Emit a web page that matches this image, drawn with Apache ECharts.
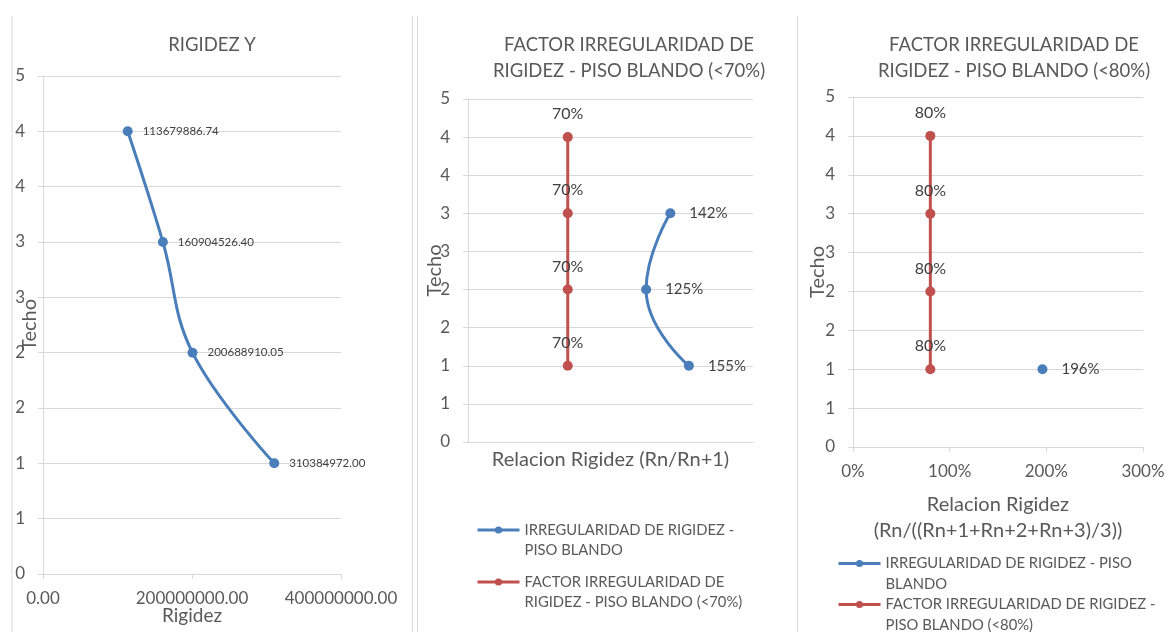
<!DOCTYPE html>
<html>
<head>
<meta charset="utf-8">
<script src="https://cdn.jsdelivr.net/npm/echarts@6/dist/echarts.min.js"></script>
<style>
html,body{margin:0;padding:0;background:#fff;}
#main{width:1168px;height:632px;}
</style>
</head>
<body>
<div id="main"></div>
<script>
// ---- Data ----
const floors = [4, 3, 2, 1];
const rigidez = [113679886.74, 160904526.40, 200688910.05, 310384972.00];

const ratioFloors = [3, 2, 1];
const ratioRn = [1.42, 1.25, 1.55];
const factor70 = [0.70, 0.70, 0.70, 0.70];

const avgFloors = [1];
const ratioAvg = [1.96];
const factor80 = [0.80, 0.80, 0.80, 0.80];

const yTicks = [0, 4.5, 0.5]; // min, max, interval
const nameBlue = 'IRREGULARIDAD DE RIGIDEZ - PISO BLANDO';
const nameRed70 = 'FACTOR IRREGULARIDAD DE RIGIDEZ - PISO BLANDO (<70%)';
const nameRed80 = 'FACTOR IRREGULARIDAD DE RIGIDEZ - PISO BLANDO (<80%)';

// ---- Styles ----
const FONT = 'Lato';
const BLUE = '#4a7ebb';
const RED = '#c0504d';
const TXT = '#595959';
const LBL = '#404040';
const GRID = '#d9d9d9';

const zip = (xs, ys) => xs.map((x, i) => [x, ys[i]]);
const pct = v => Math.round(v * 100) + '%';

function yAxis(gridIndex, gap) {
  return {
    type: 'value', gridIndex, min: yTicks[0], max: yTicks[1], interval: yTicks[2],
    name: 'Techo', nameLocation: 'middle', nameRotate: 90, nameGap: gap, nameMoveOverlap: false,
    nameTextStyle: {color: TXT, fontSize: 20, fontFamily: FONT},
    axisLine: {show: true, lineStyle: {color: GRID}},
    axisTick: {show: true, length: 5, lineStyle: {color: GRID}},
    splitLine: {show: true, lineStyle: {color: GRID}},
    axisLabel: {color: TXT, fontSize: 17, fontFamily: FONT, margin: 18, formatter: v => String(Math.round(v))}
  };
}

const titleStyle = {color: TXT, fontSize: 18.5, fontWeight: 'normal', lineHeight: 26, fontFamily: FONT};
const legendText = {color: TXT, fontSize: 14.8, lineHeight: 20, fontFamily: FONT};
const legendText3 = {color: TXT, fontSize: 14.8, lineHeight: 21, fontFamily: FONT};
const legendBase = {padding: 0, itemWidth: 42, itemHeight: 9, lineStyle: {width: 3}};

const chart = echarts.init(document.getElementById('main'));
chart.setOption({
  animation: false,
  textStyle: {fontFamily: FONT},
  title: [
    {text: 'RIGIDEZ Y', left: 212, top: 32, textAlign: 'center', padding: 0, textStyle: titleStyle},
    {text: 'FACTOR IRREGULARIDAD DE\nRIGIDEZ - PISO BLANDO (<70%)', left: 629, top: 32, textAlign: 'center', padding: 0, textStyle: titleStyle},
    {text: 'FACTOR IRREGULARIDAD DE\nRIGIDEZ - PISO BLANDO (<80%)', left: 1014, top: 32, textAlign: 'center', padding: 0, textStyle: titleStyle}
  ],
  graphic: [
    {type: 'line', shape: {x1: 12, y1: 16, x2: 12, y2: 632}, style: {stroke: GRID, lineWidth: 1}},
    {type: 'line', shape: {x1: 412.5, y1: 16, x2: 412.5, y2: 632}, style: {stroke: GRID, lineWidth: 1}},
    {type: 'line', shape: {x1: 417.5, y1: 16, x2: 417.5, y2: 632}, style: {stroke: GRID, lineWidth: 1}},
    {type: 'line', shape: {x1: 797.5, y1: 16, x2: 797.5, y2: 632}, style: {stroke: GRID, lineWidth: 1}}
  ],
  grid: [
    {left: 43, right: 827, top: 76, bottom: 58, outerBoundsMode: 'none'},
    {left: 468, right: 415, top: 99, bottom: 190, outerBoundsMode: 'none'},
    {left: 853, right: 25, top: 97, bottom: 185, outerBoundsMode: 'none'}
  ],
  xAxis: [
    {type: 'value', gridIndex: 0, min: 0, max: 400000000, interval: 200000000,
     name: 'Rigidez', nameLocation: 'middle', nameGap: 32, nameMoveOverlap: false,
     nameTextStyle: {color: TXT, fontSize: 19, fontFamily: FONT},
     axisLine: {show: true, lineStyle: {color: GRID}},
     axisTick: {show: true, length: 5, lineStyle: {color: GRID}},
     splitLine: {show: false},
     axisLabel: {color: TXT, fontSize: 17, fontFamily: FONT, margin: 16, formatter: v => v.toFixed(2)}},
    {type: 'value', gridIndex: 1, min: 0, max: 2, interval: 1,
     name: 'Relacion Rigidez (Rn/Rn+1)', nameLocation: 'middle', nameGap: 8, nameMoveOverlap: false,
     nameTextStyle: {color: TXT, fontSize: 20, fontFamily: FONT},
     axisLine: {show: true, lineStyle: {color: GRID}},
     axisTick: {show: false}, splitLine: {show: false}, axisLabel: {show: false}},
    {type: 'value', gridIndex: 2, min: 0, max: 3, interval: 1,
     name: 'Relacion Rigidez\n(Rn/((Rn+1+Rn+2+Rn+3)/3))', nameLocation: 'middle', nameGap: 45, nameMoveOverlap: false,
     nameTextStyle: {color: TXT, fontSize: 20, lineHeight: 26, fontFamily: FONT},
     axisLine: {show: true, lineStyle: {color: GRID}},
     axisTick: {show: true, length: 5, lineStyle: {color: GRID}},
     splitLine: {show: false},
     axisLabel: {color: TXT, fontSize: 17, fontFamily: FONT, margin: 16, formatter: pct}}
  ],
  yAxis: [yAxis(0, 3), yAxis(1, 23), yAxis(2, 25)],
  legend: [
    Object.assign({data: [nameBlue], left: 476, top: 500,
     formatter: () => '\nIRREGULARIDAD DE RIGIDEZ -\nPISO BLANDO', textStyle: legendText}, legendBase),
    Object.assign({data: [nameRed70], left: 476, top: 552,
     formatter: () => '\nFACTOR IRREGULARIDAD DE\nRIGIDEZ - PISO BLANDO (<70%)', textStyle: legendText}, legendBase),
    Object.assign({data: [nameBlue], left: 837, top: 532,
     formatter: () => '\nIRREGULARIDAD DE RIGIDEZ - PISO\nBLANDO', textStyle: legendText3}, legendBase),
    Object.assign({data: [nameRed80], left: 837, top: 573,
     formatter: () => '\nFACTOR IRREGULARIDAD DE RIGIDEZ -\nPISO BLANDO (<80%)', textStyle: legendText3}, legendBase)
  ],
  series: [
    {type: 'line', name: 'Rigidez Y', xAxisIndex: 0, yAxisIndex: 0, data: zip(rigidez, floors),
     smooth: 0.4, symbol: 'circle', symbolSize: 10, color: BLUE, lineStyle: {width: 3, color: BLUE},
     label: {show: true, position: 'right', distance: 10, color: LBL, fontSize: 11.5, fontFamily: FONT,
             formatter: p => p.value[0].toFixed(2)}},
    {type: 'line', name: nameBlue, xAxisIndex: 1, yAxisIndex: 1, data: zip(ratioRn, ratioFloors),
     smooth: 0.5, symbol: 'circle', symbolSize: 10, color: BLUE, lineStyle: {width: 3, color: BLUE},
     label: {show: true, position: 'right', distance: 14, color: LBL, fontSize: 15, fontFamily: FONT,
             formatter: p => pct(p.value[0])}},
    {type: 'line', name: nameRed70, xAxisIndex: 1, yAxisIndex: 1, data: zip(factor70, floors),
     symbol: 'circle', symbolSize: 10, color: RED, lineStyle: {width: 3, color: RED},
     label: {show: true, position: 'top', distance: 10, color: LBL, fontSize: 16, fontFamily: FONT,
             formatter: p => pct(p.value[0])}},
    {type: 'line', name: nameBlue, xAxisIndex: 2, yAxisIndex: 2, data: zip(ratioAvg, avgFloors),
     symbol: 'circle', symbolSize: 10, color: BLUE, lineStyle: {width: 3, color: BLUE},
     label: {show: true, position: 'right', distance: 14, color: LBL, fontSize: 15, fontFamily: FONT,
             formatter: p => pct(p.value[0])}},
    {type: 'line', name: nameRed80, xAxisIndex: 2, yAxisIndex: 2, data: zip(factor80, floors),
     symbol: 'circle', symbolSize: 10, color: RED, lineStyle: {width: 3, color: RED},
     label: {show: true, position: 'top', distance: 10, color: LBL, fontSize: 16, fontFamily: FONT,
             formatter: p => pct(p.value[0])}}
  ]
});
</script>
</body>
</html>
